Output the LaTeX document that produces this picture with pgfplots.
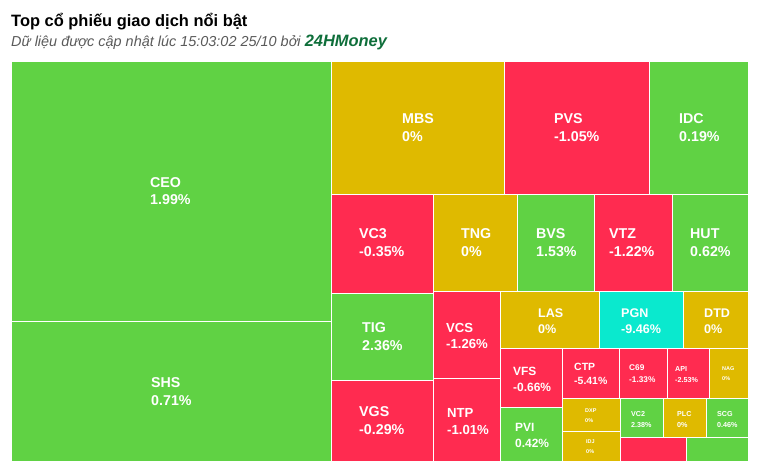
\documentclass[border=0pt]{standalone}
\usepackage{fontspec}
\setmainfont{Liberation Sans}
\usepackage{pgfplots}
\pgfplotsset{compat=1.18}
\definecolor{tg}{RGB}{96,210,68}
\definecolor{tr}{RGB}{255,43,80}
\definecolor{ty}{RGB}{223,186,0}
\definecolor{tc}{RGB}{10,233,206}
\definecolor{brand}{RGB}{14,110,58}
\definecolor{sub}{RGB}{90,90,90}
\newcommand\tile[5]{\addplot[fill=#5,draw=white,line width=1bp] coordinates {(#1,#2) (#3,#2) (#3,#4) (#1,#4) (#1,#2)};}
\newcommand\lab[6]{%
 \node[anchor=west,inner sep=0pt,text=white,font=\fontsize{#4}{#4}\selectfont\bfseries] at (axis cs:#1,#2) {#5};
 \node[anchor=west,inner sep=0pt,text=white,font=\fontsize{#4}{#4}\selectfont\bfseries] at (axis cs:#1,#3) {#6};}
\begin{document}
\begin{tikzpicture}
\begin{axis}[scale only axis, width=767bp, height=474bp, xmin=0, xmax=767, ymin=0, ymax=474,
  y dir=reverse, hide axis, clip=false]
\addplot[draw=none] coordinates {(0,0) (767,474)};
\tile{11}{62}{331}{321}{tg}
\tile{11}{321}{331}{461}{tg}
\tile{331}{62}{504}{194}{ty}
\tile{504}{62}{649}{194}{tr}
\tile{649}{62}{748}{194}{tg}
\tile{331}{194}{433}{293}{tr}
\tile{433}{194}{517}{291}{ty}
\tile{517}{194}{594}{291}{tg}
\tile{594}{194}{672}{291}{tr}
\tile{672}{194}{748}{291}{tg}
\tile{331}{293}{433}{380}{tg}
\tile{331}{380}{433}{461}{tr}
\tile{433}{291}{500}{378}{tr}
\tile{433}{378}{500}{461}{tr}
\tile{500}{291}{599}{348}{ty}
\tile{599}{291}{683}{348}{tc}
\tile{683}{291}{748}{348}{ty}
\tile{500}{348}{562}{407}{tr}
\tile{500}{407}{562}{461}{tg}
\tile{562}{348}{619}{398}{tr}
\tile{619}{348}{667}{398}{tr}
\tile{667}{348}{709}{398}{tr}
\tile{709}{348}{748}{398}{ty}
\tile{562}{398}{620}{431}{ty}
\tile{562}{431}{620}{461}{ty}
\tile{620}{398}{663}{437}{tg}
\tile{663}{398}{706}{437}{ty}
\tile{706}{398}{748}{437}{tg}
\tile{620}{437}{686}{461}{tr}
\tile{686}{437}{748}{461}{tg}
\lab{150}{183}{200}{14.3}{CEO}{1.99\%}
\lab{151}{383}{401}{14.3}{SHS}{0.71\%}
\lab{402}{119}{137}{14.3}{MBS}{0\%}
\lab{554}{119}{137}{14.3}{PVS}{-1.05\%}
\lab{679}{119}{137}{14.3}{IDC}{0.19\%}
\lab{359}{234}{252}{14.3}{VC3}{-0.35\%}
\lab{461}{234}{252}{14.3}{TNG}{0\%}
\lab{536}{234}{252}{14.3}{BVS}{1.53\%}
\lab{609}{234}{252}{14.3}{VTZ}{-1.22\%}
\lab{690}{234}{252}{14.3}{HUT}{0.62\%}
\lab{362}{328}{346}{14.3}{TIG}{2.36\%}
\lab{446}{328}{344}{13.2}{VCS}{-1.26\%}
\lab{359}{412}{430}{14.3}{VGS}{-0.29\%}
\lab{447}{413}{430}{13.2}{NTP}{-1.01\%}
\lab{538}{313}{329}{12.6}{LAS}{0\%}
\lab{621}{313}{329}{12.6}{PGN}{-9.46\%}
\lab{704}{313}{329}{12.6}{DTD}{0\%}
\lab{513}{371}{387}{12}{VFS}{-0.66\%}
\lab{515}{427}{443}{12}{PVI}{0.42\%}
\lab{574}{367}{381}{10.5}{CTP}{-5.41\%}
\lab{629}{368}{380}{8.3}{C69}{-1.33\%}
\lab{675}{369}{380}{7.2}{API}{-2.53\%}
\lab{722}{369}{379}{5.5}{NAG}{0\%}
\lab{585}{411}{421}{5.5}{DXP}{0\%}
\lab{586}{442}{452}{5.5}{IDJ}{0\%}
\lab{631}{414}{425}{7.2}{VC2}{2.38\%}
\lab{677}{414}{425}{7.2}{PLC}{0\%}
\lab{717}{414}{425}{7.2}{SCG}{0.46\%}
\node[anchor=base west,inner sep=0pt,font=\fontsize{16.5}{16.5}\selectfont\bfseries] at (axis cs:11,27) {Top cổ phiếu giao dịch nổi bật};
\node[anchor=base west,inner sep=0pt,font=\fontsize{14.5}{14.5}\selectfont\itshape,text=sub] at (axis cs:11,47) {Dữ liệu được cập nhật lúc 15:03:02 25/10 bởi \textcolor{brand}{\fontsize{16.5}{16.5}\selectfont\bfseries 24HMoney}};
\end{axis}
\end{tikzpicture}
\end{document}
